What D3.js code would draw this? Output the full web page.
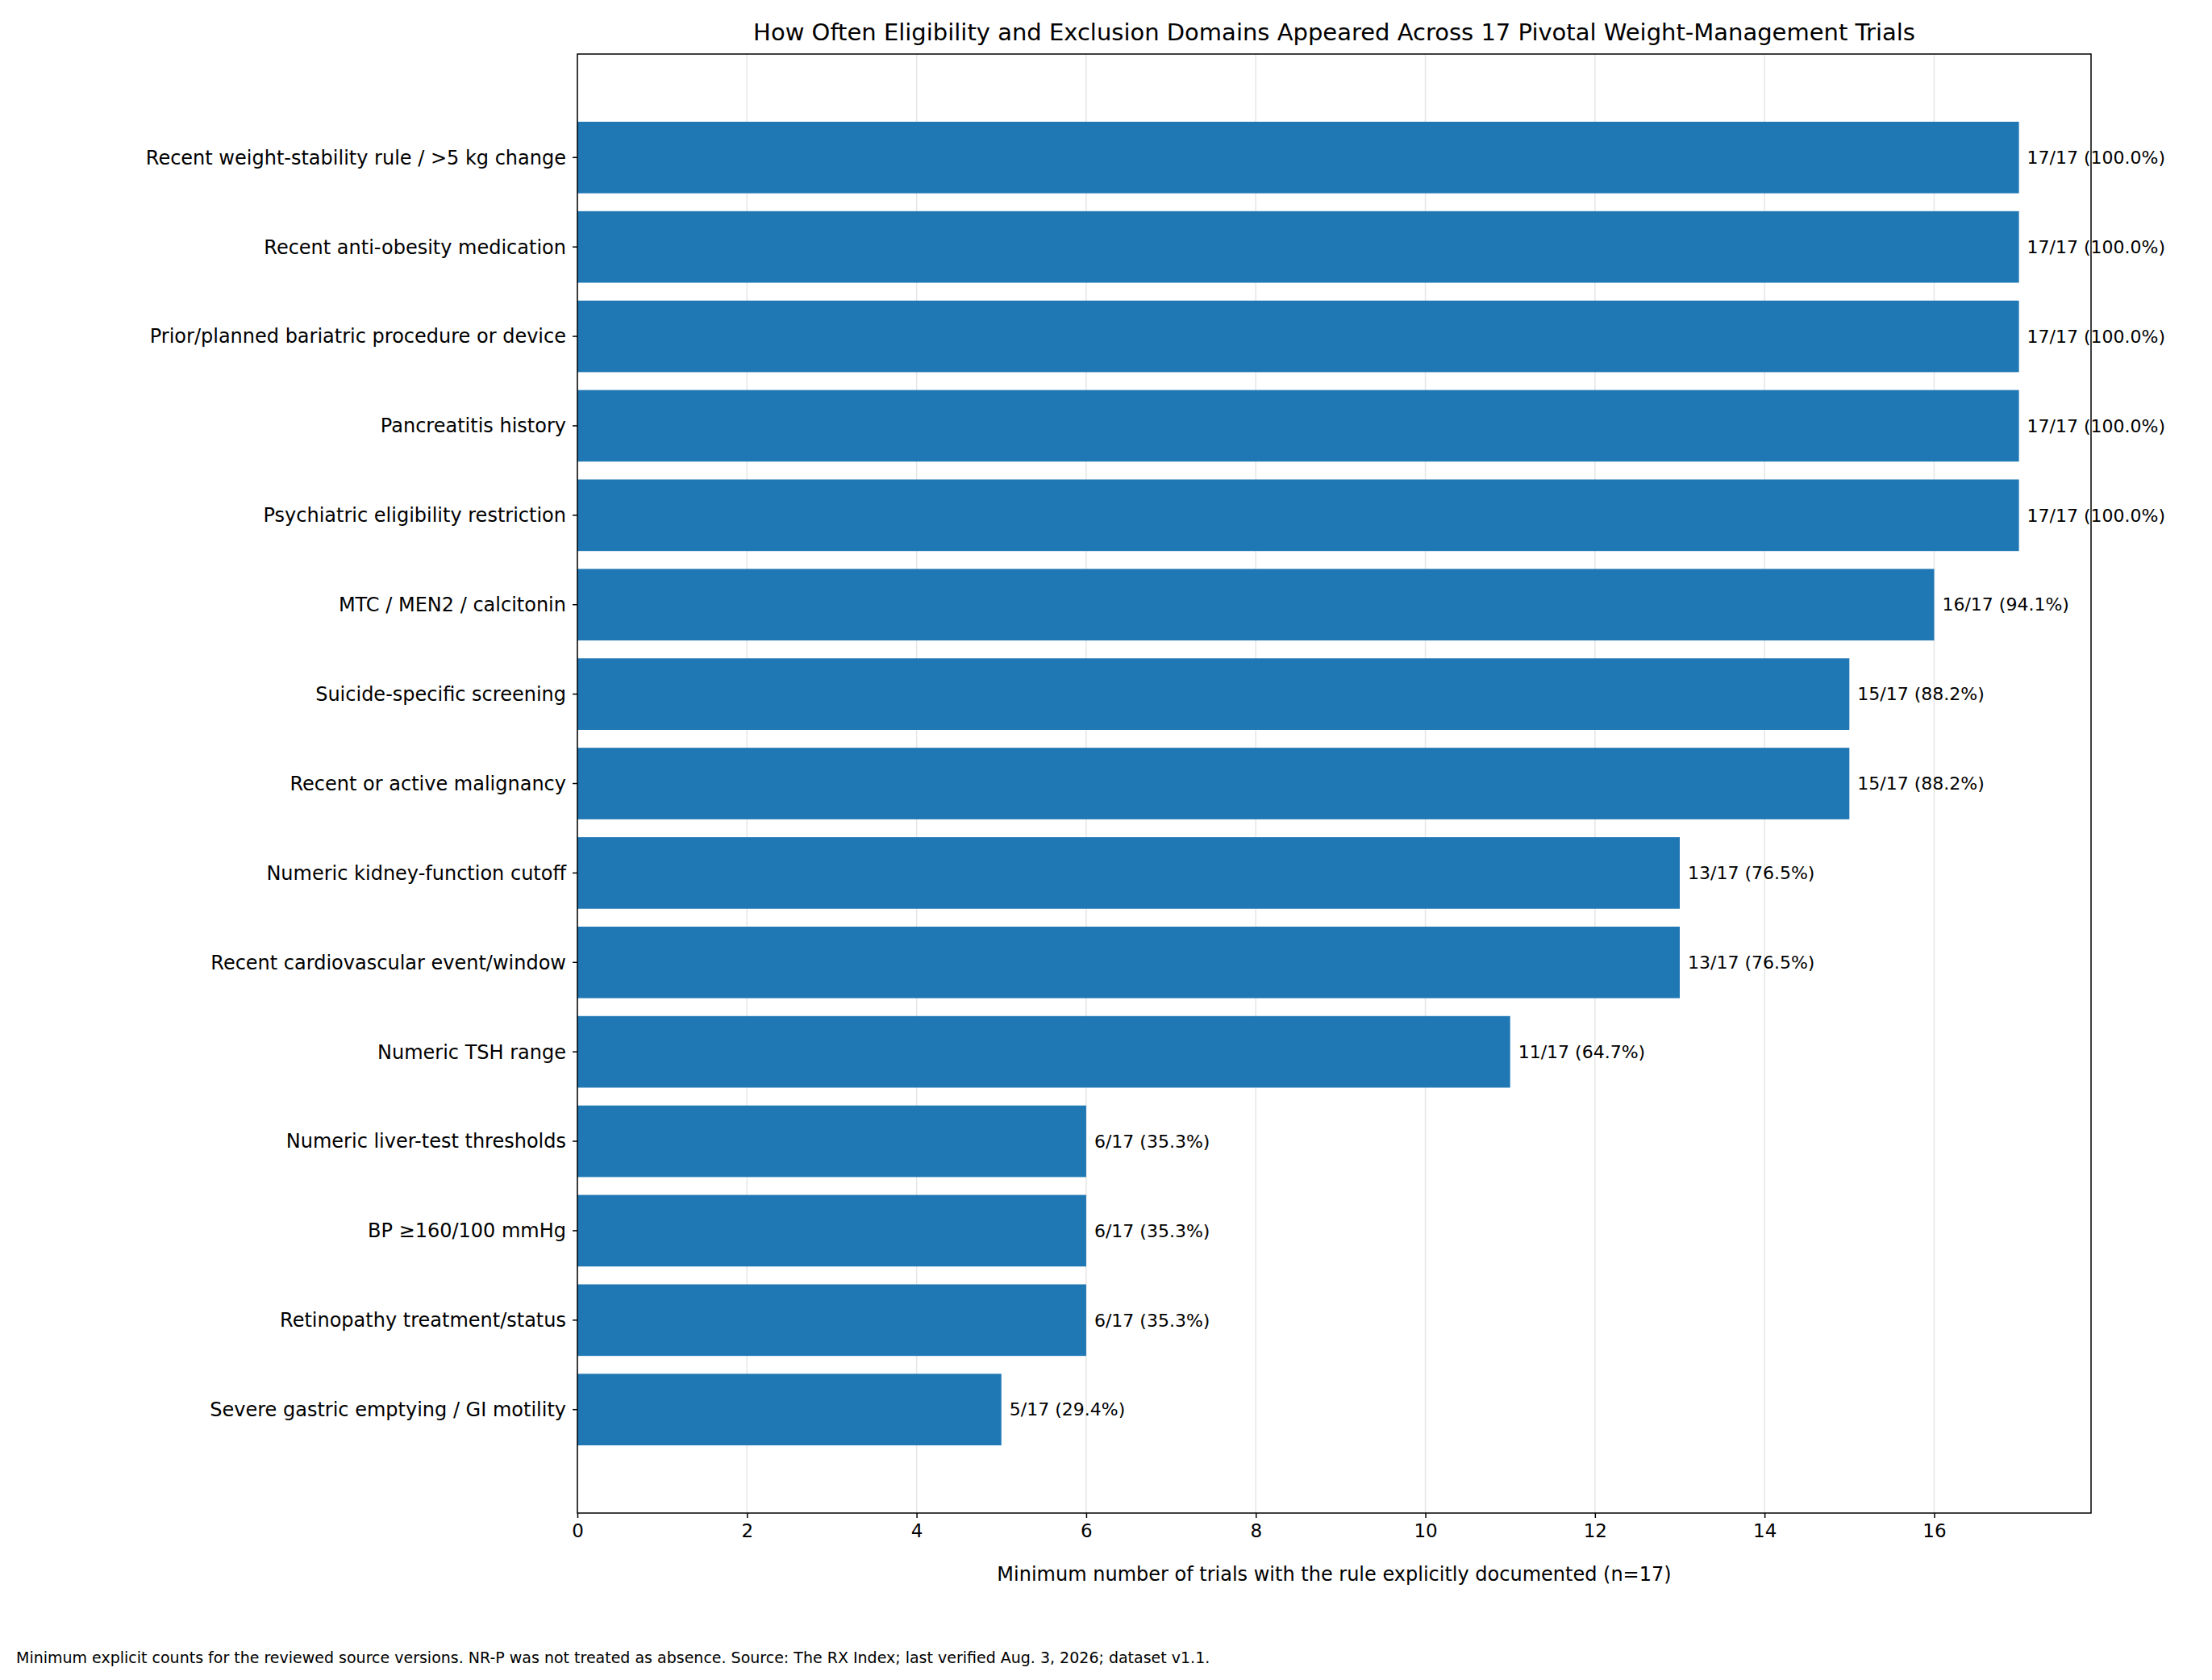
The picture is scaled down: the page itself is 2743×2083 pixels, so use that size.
<!DOCTYPE html>
<html>
<head>
<meta charset="UTF-8">
<script src="https://d3js.org/d3.v7.min.js"></script>
<style>
  body { margin: 0; background: #fff; }
  text { font-family: "DejaVu Sans", sans-serif; }
</style>
</head>
<body>
<script>
const labels = [
  "Recent weight-stability rule / >5 kg change",
  "Recent anti-obesity medication",
  "Prior/planned bariatric procedure or device",
  "Pancreatitis history",
  "Psychiatric eligibility restriction",
  "MTC / MEN2 / calcitonin",
  "Suicide-specific screening",
  "Recent or active malignancy",
  "Numeric kidney-function cutoff",
  "Recent cardiovascular event/window",
  "Numeric TSH range",
  "Numeric liver-test thresholds",
  "BP \u2265160/100 mmHg",
  "Retinopathy treatment/status",
  "Severe gastric emptying / GI motility"
];
const counts = [17, 17, 17, 17, 17, 16, 15, 15, 13, 13, 11, 6, 6, 6, 5];
const total = 17;
const xTicks = [0, 2, 4, 6, 8, 10, 12, 14, 16];

const W = 2743, H = 2083;
const L = 716, R = 2593, T = 67, B = 1876;

const svg = d3.select("body").append("svg").attr("width", W).attr("height", H);

const x = d3.scaleLinear().domain([0, 17.85]).range([L, R]);
const y = d3.scaleLinear().domain([-1.157, labels.length - 1 + 1.157]).range([T, B]);
const step = y(1) - y(0);
const bh = step * 0.8;

// grid
svg.append("g").selectAll("line").data(xTicks).join("line")
  .attr("x1", d => x(d)).attr("x2", d => x(d)).attr("y1", T).attr("y2", B)
  .attr("stroke", "#e6e6e6").attr("stroke-width", 1.5);

// bars
svg.append("g").selectAll("rect").data(counts).join("rect")
  .attr("x", x(0)).attr("y", (d, i) => y(i) - bh / 2)
  .attr("width", d => x(d) - x(0)).attr("height", bh)
  .attr("fill", "#1f77b4");

// value labels
svg.append("g").selectAll("text").data(counts).join("text")
  .attr("x", d => x(d) + 10).attr("y", (d, i) => y(i))
  .attr("dy", "0.35em").attr("font-size", 22)
  .text(d => `${d}/${total} (${(d / total * 100).toFixed(1)}%)`);

// axes
const xa = svg.append("g").attr("transform", `translate(0,${B})`)
  .call(d3.axisBottom(x).tickValues(xTicks).tickSize(6).tickPadding(8));
xa.select(".domain").remove();
xa.selectAll("text").attr("font-size", 23).attr("fill", "#000");
xa.selectAll("line").attr("stroke", "#000").attr("stroke-width", 1.5);

const ya = svg.append("g").attr("transform", `translate(${L},0)`);
labels.forEach((l, i) => {
  ya.append("line").attr("x1", -6).attr("x2", 0).attr("y1", y(i)).attr("y2", y(i))
    .attr("stroke", "#000").attr("stroke-width", 1.5);
  ya.append("text").attr("x", -14).attr("y", y(i)).attr("dy", "0.35em")
    .attr("text-anchor", "end").attr("font-size", 24).text(l);
});

svg.append("rect").attr("x", L).attr("y", T).attr("width", R - L).attr("height", B - T)
  .attr("fill", "none").attr("stroke", "#000").attr("stroke-width", 1.5);

svg.append("text").attr("x", (L + R) / 2).attr("y", 50).attr("text-anchor", "middle")
  .attr("font-size", 29)
  .text("How Often Eligibility and Exclusion Domains Appeared Across 17 Pivotal Weight-Management Trials");

svg.append("text").attr("x", (L + R) / 2).attr("y", 1960).attr("text-anchor", "middle")
  .attr("font-size", 24)
  .text("Minimum number of trials with the rule explicitly documented (n=17)");

svg.append("text").attr("x", 20).attr("y", 2062).attr("font-size", 19)
  .text("Minimum explicit counts for the reviewed source versions. NR-P was not treated as absence. Source: The RX Index; last verified Aug. 3, 2026; dataset v1.1.");
</script>
</body>
</html>
